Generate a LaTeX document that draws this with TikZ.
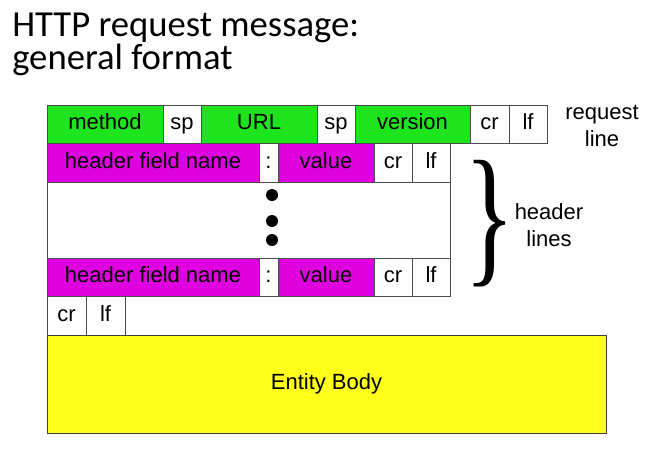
\documentclass[tikz,border=0pt]{standalone}
\usepackage{fontspec}
\setmainfont{Liberation Sans}
\newfontfamily\titlefont{Carlito}
\newfontfamily\bracefont{Liberation Serif}
\usepackage{graphicx}
\usepackage{tikz}
\usetikzlibrary{positioning}
\definecolor{fieldgreen}{RGB}{30,228,30}
\definecolor{fieldmagenta}{RGB}{222,0,222}
\definecolor{bodyyellow}{RGB}{255,255,26}
\tikzset{
  cell/.style={rectangle, draw=black!70, line width=0.75pt, fill=white, inner sep=0pt, outer sep=0pt, minimum height=28.875pt, text height=12pt, text depth=3.5pt, font=\fontsize{16.5}{19}\selectfont},
  greencell/.style={cell, fill=fieldgreen},
  pinkcell/.style={cell, fill=fieldmagenta},
  vdot/.style={circle, fill=black, inner sep=0pt, minimum size=9pt},
  sidelabel/.style={align=center, font=\fontsize{16.5}{20}\selectfont},
}
\begin{document}
\begin{tikzpicture}[x=0.75pt, y=-0.75pt]
\useasboundingbox (0,0) rectangle (670,458);
% title
\node [anchor=north west, inner sep=0pt, align=left, font=\titlefont\fontsize{27.5}{24.75}\selectfont] (title) at (12,13) {HTTP request message:\\general format};
% request line
\node [greencell, anchor=north west, minimum width=87pt] (meth) at (47,105) {method};
\node [cell, minimum width=28.5pt, right=0pt of meth] (sp1) {sp};
\node [greencell, minimum width=87pt, right=0pt of sp1] (url) {URL};
\node [cell, minimum width=28.5pt, right=0pt of url] (sp2) {sp};
\node [greencell, minimum width=86.25pt, right=0pt of sp2] (ver) {version};
\node [cell, minimum width=29.25pt, right=0pt of ver] (cr1) {cr};
\node [cell, minimum width=28.5pt, right=0pt of cr1] (lf1) {lf};
% header lines
\node [pinkcell, anchor=north west, minimum width=159pt] (hfn1) at (47,143.5) {header field name};
\node [cell, minimum width=14.25pt, right=0pt of hfn1] (col1) {:};
\node [pinkcell, minimum width=72pt, right=0pt of col1] (val1) {value};
\node [cell, minimum width=28.5pt, right=0pt of val1] (cr2) {cr};
\node [cell, minimum width=28.5pt, right=0pt of cr2] (lf2) {lf};
\node [cell, anchor=north west, minimum width=302.25pt, minimum height=57pt] (gap) at (47,182) {};
\node [vdot] (d1) at (272,195) {};
\node [vdot] (d2) at (272,221) {};
\node [vdot] (d3) at (272,240) {};
\node [pinkcell, anchor=north west, minimum width=159pt] (hfn2) at (47,258) {header field name};
\node [cell, minimum width=14.25pt, right=0pt of hfn2] (col2) {:};
\node [pinkcell, minimum width=72pt, right=0pt of col2] (val2) {value};
\node [cell, minimum width=28.5pt, right=0pt of val2] (cr3) {cr};
\node [cell, minimum width=28.5pt, right=0pt of cr3] (lf3) {lf};
% blank line
\node [cell, anchor=north west, minimum width=29.25pt] (cr4) at (47,296.5) {cr};
\node [cell, minimum width=29.25pt, right=0pt of cr4] (lf4) {lf};
% body
\node [cell, fill=bodyyellow, draw=black!75!yellow!60!black, anchor=north west, minimum width=419.25pt, minimum height=73.5pt] (body) at (47,335) {Entity Body};
% labels
\node [sidelabel] (reql) at (602,126) {request\\line};
\node [inner sep=0pt] (brace) at (490,223.5) {\resizebox*{38pt}{95pt}{\bracefont\}}};
\node [sidelabel] (hdrl) at (549,225) {header\\lines};
\end{tikzpicture}
\end{document}
